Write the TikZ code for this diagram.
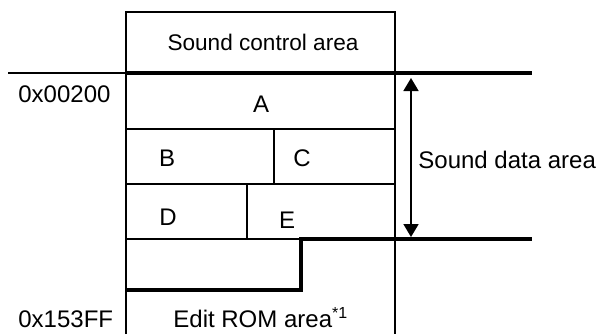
\documentclass[tikz,border=0pt]{standalone}
\usepackage{fontspec}
\setmainfont{Liberation Sans}
\usetikzlibrary{arrows.meta}
\begin{document}
\begin{tikzpicture}[x=0.5pt,y=-0.5pt,
  thin line/.style={line width=0.55pt},
  thick line/.style={line width=2.4pt},
  lbl/.style={inner sep=0pt,font=\fontsize{12pt}{14pt}\selectfont},
  dim arrow/.style={line width=0.9pt,{Triangle[width=7.5pt,length=6.5pt]}-{Triangle[width=7.5pt,length=6.5pt]}}]
\useasboundingbox (0,0) rectangle (597,334);
% box outline
\draw[thin line] (126,334) -- (126,12) -- (395,12) -- (395,334);
% address line at 0x00200
\draw[thin line] (8,73) -- (126,73);
\draw[thick line] (126,73) -- (532,73);
% rows
\draw[thin line] (126,129) -- (395,129);
\draw[thin line] (126,184) -- (395,184);
\draw[thin line] (126,239) -- (301,239);
\draw[thin line] (274,129) -- (274,184);
\draw[thin line] (247,184) -- (247,239);
% step boundary
\draw[thick line] (126,290) -- (301,290) -- (301,239) -- (532,239);
% dimension arrow
\coordinate (top) at (411,78);
\coordinate (bot) at (411,237);
\draw[dim arrow] (top) -- (bot);
% labels
\node[lbl,anchor=base,font=\fontsize{11.3pt}{13pt}\selectfont] (ctrl) at (263,50) {Sound control area};
\node[lbl,anchor=base west] (a1) at (18,102) {0x00200};
\node[lbl,anchor=base] (A) at (261,112) {A};
\node[lbl,anchor=base] (B) at (167,166) {B};
\node[lbl,anchor=base] (C) at (302,166) {C};
\node[lbl,anchor=base] (D) at (168,225) {D};
\node[lbl,anchor=base] (E) at (287,228) {E};
\node[lbl,anchor=base west] (sda) at (418,168) {Sound data area};
\node[lbl,anchor=base west] (a2) at (18,327) {0x153FF};
\node[lbl,anchor=base west] (rom) at (173,327) {Edit ROM area\textsuperscript{*1}};
\end{tikzpicture}
\end{document}
